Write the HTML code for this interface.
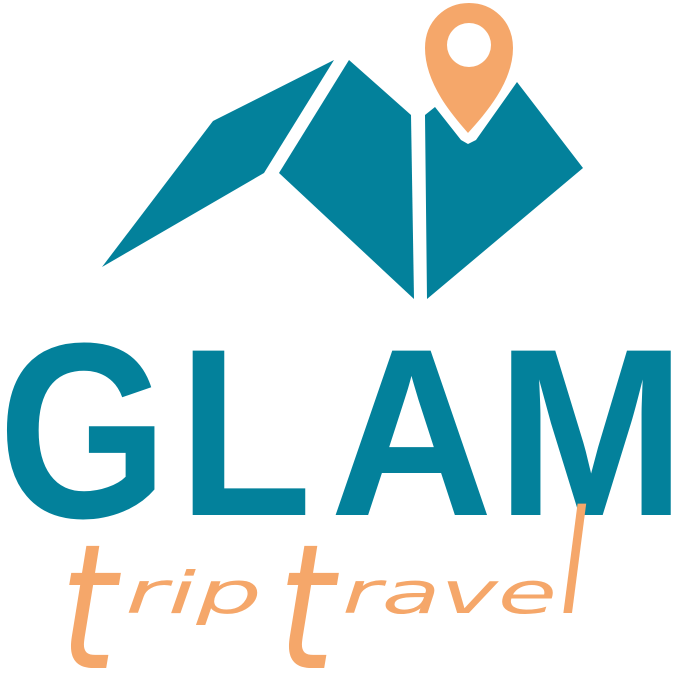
<!DOCTYPE html>
<html><head><meta charset="utf-8"><style>
html,body{margin:0;padding:0;background:#fff;overflow:hidden;}
svg{display:block;}
</style></head><body>
<svg width="684" height="681" viewBox="0 0 684 681">
  <g fill="#03819B">
    <polygon points="213,121 334,60 264,173 102,267"/>
    <polygon points="349,60 411,115 414,299 279,173"/>
    <polygon points="425,115 435,107 461,140 468,144 476,140 517,82 583,168 427,299"/>
  </g>
  <g>
    <path d="M468,136 C452,118 423,85 423,48 C423,20 444,1 469,1 C494,1 515,20 515,48 C515,85 484,118 468,136 Z" fill="#F5A76A" stroke="#fff" stroke-width="4"/>
    <circle cx="469" cy="45" r="22" fill="#fff"/>
  </g>
  <g fill="#03819B" font-family="Liberation Sans, sans-serif" font-weight="bold">
    <text x="-2" y="517" font-size="250" textLength="170" lengthAdjust="spacingAndGlyphs">G</text>
    <text x="178" y="515" font-size="239" textLength="134" lengthAdjust="spacingAndGlyphs">L</text>
    <text x="330" y="515" font-size="239" textLength="163" lengthAdjust="spacingAndGlyphs">A</text>
    <text x="496" y="515" font-size="239" textLength="190" lengthAdjust="spacingAndGlyphs">M</text>
  </g>
  <g fill="#F5A76A" font-family="DejaVu Sans, sans-serif" font-style="italic" font-weight="200">
    <text transform="translate(60,668) scale(2.4,2.9)" font-size="60">t</text>
    <text x="125" y="613" font-size="58" textLength="137" lengthAdjust="spacingAndGlyphs">rip</text>
    <text transform="translate(278,668) scale(2.4,2.9)" font-size="60">t</text>
    <text x="342" y="613" font-size="58" textLength="215" lengthAdjust="spacingAndGlyphs">rave</text>
    <text transform="translate(560,613) scale(1.2,1.8)" font-size="80">l</text>
  </g>
</svg>
</body></html>
